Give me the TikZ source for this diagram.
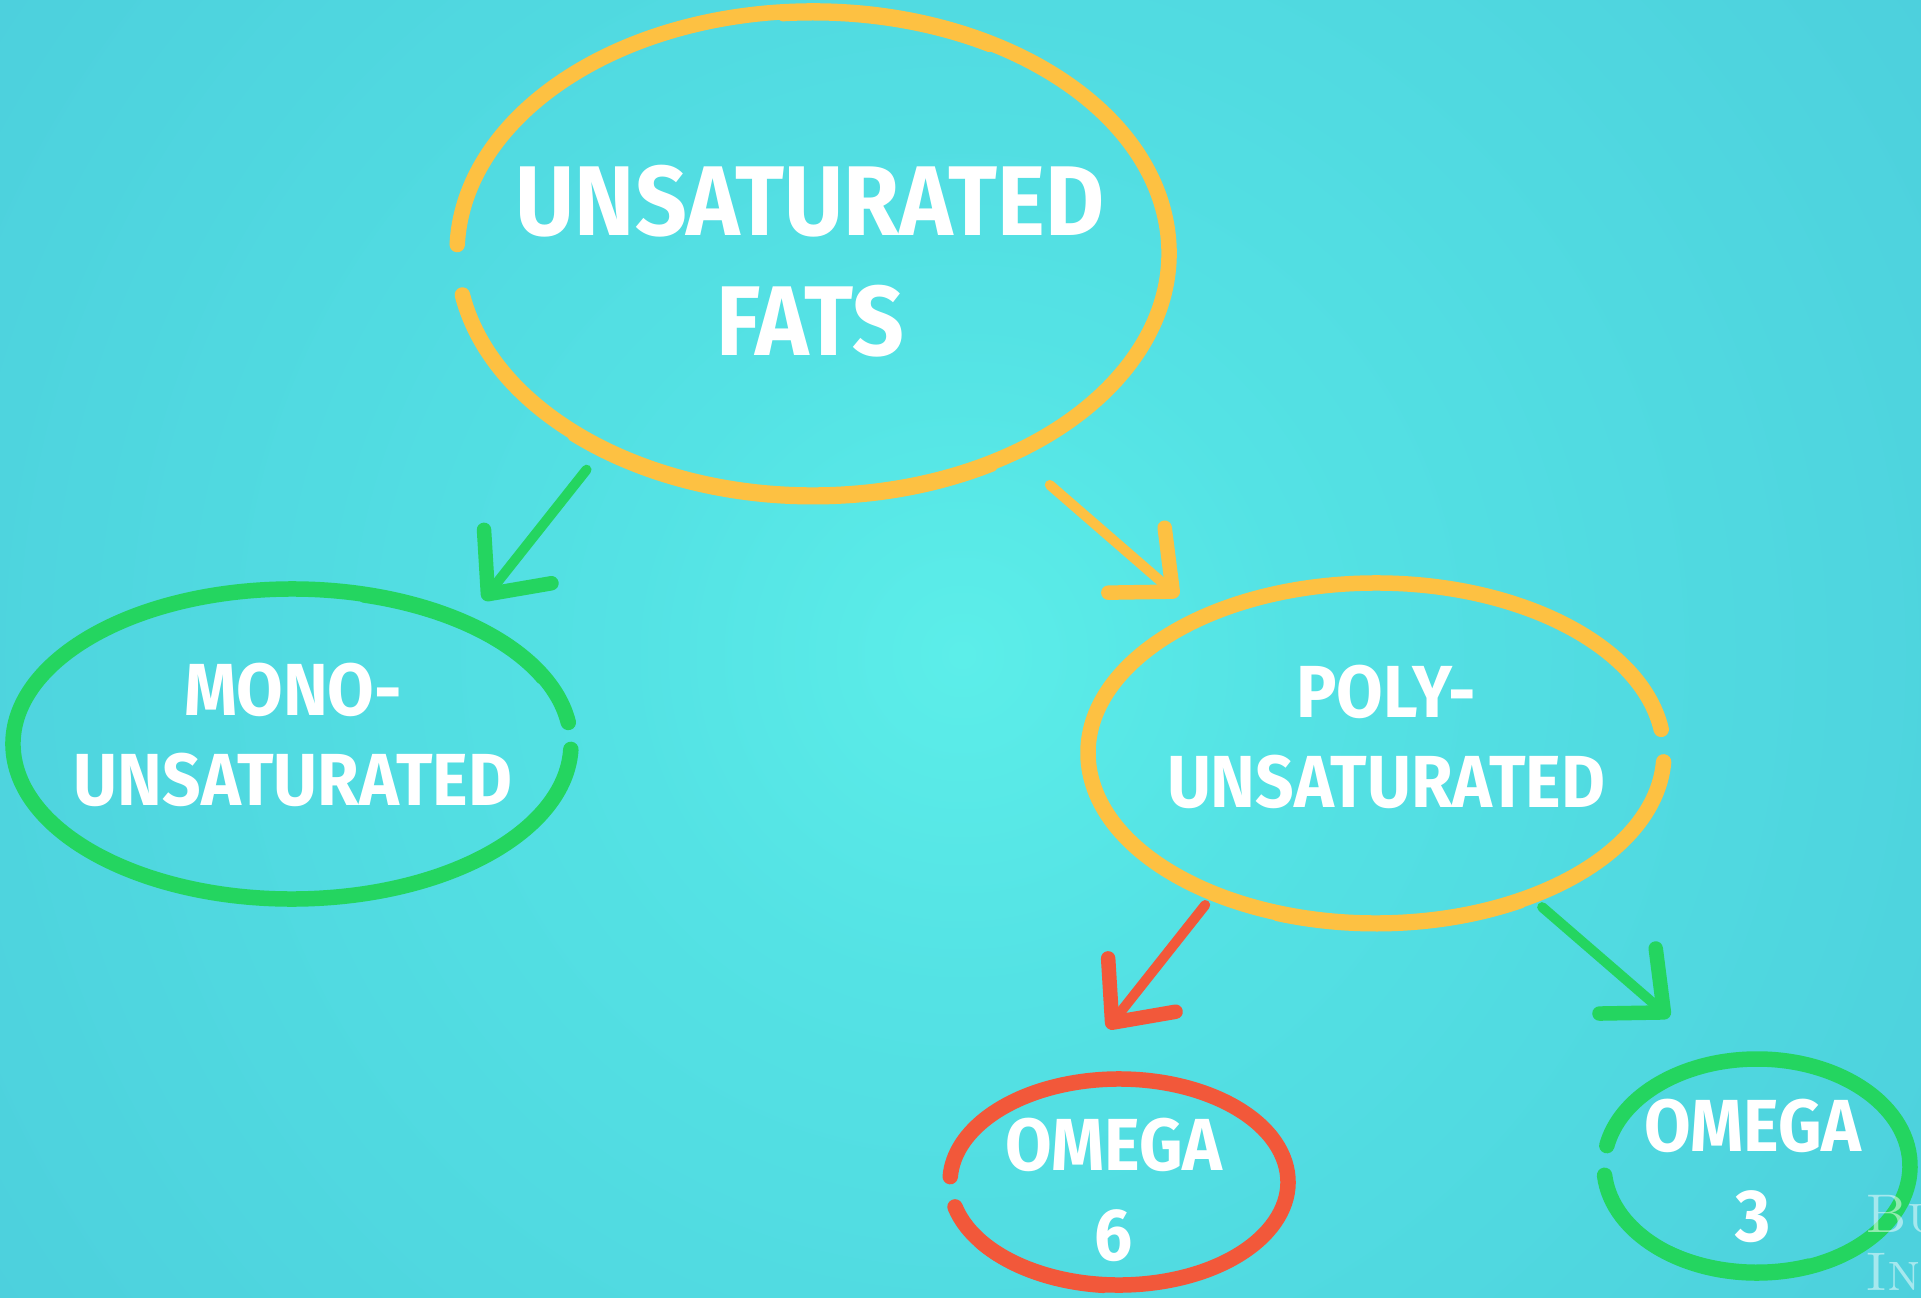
\documentclass[tikz,border=0pt]{standalone}
\usepackage{fontspec}
\newfontfamily\labelfont{Fira Sans}[FakeStretch=0.915]
\usetikzlibrary{arrows.meta,shapes.geometric,positioning,calc}

\definecolor{fatgold}{RGB}{253,193,66}
\definecolor{fatgreen}{RGB}{36,213,96}
\definecolor{fatred}{RGB}{242,88,58}
\definecolor{bgcore}{RGB}{92,238,233}
\definecolor{bgin}{RGB}{84,226,228}
\definecolor{bgmid}{RGB}{74,202,218}
\definecolor{bgout}{RGB}{58,168,198}
\pgfdeclareradialshading{bgglow}{\pgfpoint{0bp}{0bp}}{color(0bp)=(bgcore); color(7bp)=(bgin); color(30bp)=(bgmid); color(50bp)=(bgout)}

\begin{document}
\begin{tikzpicture}[x=0.1mm,y=0.1mm,
  blob/.style={ellipse,inner sep=0pt,outer sep=0pt},
  bigtext/.style={text=white,align=center,font={\labelfont\bfseries\fontsize{28.2}{34}\selectfont}},
  smalltext/.style={text=white,align=center,font={\labelfont\bfseries\fontsize{21}{25.4}\selectfont}},
  watermark/.style={text=white,text opacity=0.5,inner sep=0pt,anchor=base west,font={\fontsize{15.5}{16}\selectfont}},
  brush/.style={line width=1.55mm,line cap=round},
  rough/.style={line width=0.7mm,line cap=round},
  pointer/.style={line width=1mm,line cap=round,-{Straight Barb[length=4.8mm,width=8.6mm,line width=1.45mm,round]}}]
  \useasboundingbox (0,0) rectangle (1921,1297);
  \begin{scope}
    \clip (0,0) rectangle (1921,1297);
    \shade[shading=bgglow] (962,642) circle (1200);
  \end{scope}

  % ellipses
  \node[blob,minimum width=71.2mm,minimum height=48.4mm] (top)        at (813,1044) {};
  \node[blob,minimum width=55.8mm,minimum height=31mm]   (mono)       at (292,553)  {};
  \node[blob,minimum width=57.6mm,minimum height=34mm]   (poly)       at (1376,544) {};
  \node[blob,minimum width=33.8mm,minimum height=20.6mm] (omegasix)   at (1119,115) {};
  \node[blob,minimum width=30.6mm,minimum height=21.4mm] (omegathree) at (1757,131) {};

  \draw[brush,fatgold] (top.center) ++(190:35.6mm and 24.2mm) arc[start angle=190,end angle=538,x radius=35.6mm,y radius=24.2mm];
  \draw[rough,fatgold] (top.center) ++(228:36.1mm and 24.8mm) arc[start angle=228,end angle=300,x radius=36.1mm,y radius=24.8mm];
  \draw[rough,fatgold] (top.center) ++(60:35.2mm and 23.6mm) arc[start angle=60,end angle=95,x radius=35.2mm,y radius=23.6mm];
  \draw[brush,fatgreen] (mono.center) ++(8:27.9mm and 15.5mm) arc[start angle=8,end angle=358,x radius=27.9mm,y radius=15.5mm];
  \draw[rough,fatgreen] (mono.center) ++(25:27.4mm and 15mm) arc[start angle=25,end angle=75,x radius=27.4mm,y radius=15mm];
  \draw[brush,fatgold] (poly.center) ++(8:28.8mm and 17mm) arc[start angle=8,end angle=357,x radius=28.8mm,y radius=17mm];
  \draw[rough,fatgold] (poly.center) ++(250:29.2mm and 17.5mm) arc[start angle=250,end angle=300,x radius=29.2mm,y radius=17.5mm];
  \draw[brush,fatred] (omegasix.center) ++(194:16.9mm and 10.3mm) arc[start angle=194,end angle=537,x radius=16.9mm,y radius=10.3mm];
  \draw[rough,fatred] (omegasix.center) ++(215:17.3mm and 10.8mm) arc[start angle=215,end angle=265,x radius=17.3mm,y radius=10.8mm];
  \draw[brush,fatgreen] (omegathree.center) ++(185:15.3mm and 10.7mm) arc[start angle=185,end angle=529,x radius=15.3mm,y radius=10.7mm];
  \draw[rough,fatgreen] (omegathree.center) ++(235:15.1mm and 10.2mm) arc[start angle=235,end angle=290,x radius=15.1mm,y radius=10.2mm];

  % labels
  \node[bigtext]   (toplabel)   at ([shift={(-3,-8)}]top.center)       {UNSATURATED\\FATS};
  \node[smalltext] (monolabel)  at ([shift={(1,9)}]mono.center)        {MONO-\\UNSATURATED};
  \node[smalltext] (polylabel)  at ([shift={(10,16)}]poly.center)      {POLY-\\UNSATURATED};
  \node[smalltext] (sixlabel)   at ([shift={(-5,-8)}]omegasix.center)  {OMEGA\\6};
  \node[smalltext] (threelabel) at ([shift={(-4,-5)}]omegathree.center) {OMEGA\\3};

  % arrows
  \path[pointer]
    (top.-137)  edge[fatgreen,shorten <=2.7mm,shorten >=2.9mm]  (mono.35)
    (top.-45)   edge[fatgold,shorten <=4.85mm,shorten >=3.2mm]  (poly.142)
    (poly.-139) edge[fatred,shorten <=1.45mm,shorten >=7.2mm]   (omegasix.120)
    (poly.-43)  edge[fatgreen,shorten <=1.6mm,shorten >=6.85mm] (omegathree.109);

  \begin{scope}
    \clip (0,0) rectangle (1921,1297);
    \node[watermark] (bizname)  at (1865,65) {\textsc{Business}};
    \node[watermark] (bizname2) at (1865,7)  {\textsc{Insider}};
  \end{scope}
\end{tikzpicture}
\end{document}
